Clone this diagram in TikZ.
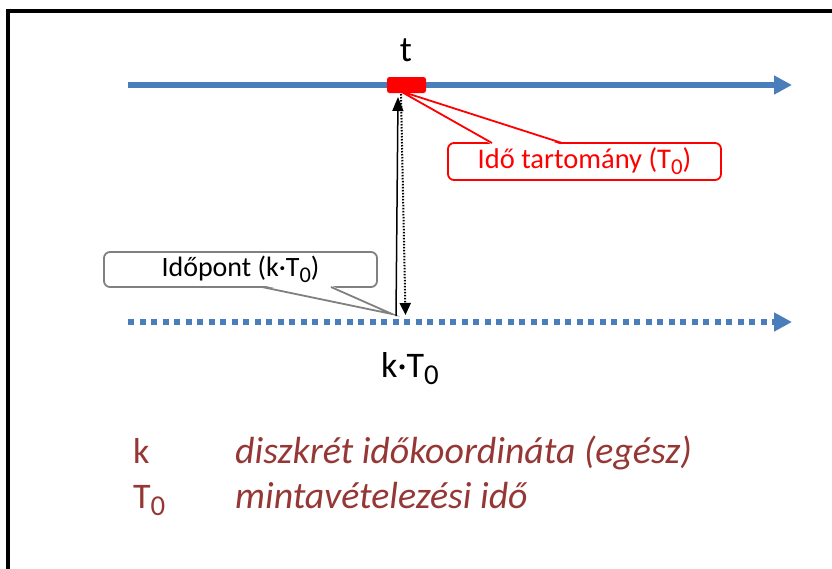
\documentclass[tikz,border=0pt]{standalone}
\usepackage{fontspec}
\usepackage{graphicx}
\setmainfont{Carlito}
\usetikzlibrary{arrows.meta}
\definecolor{axisblue}{HTML}{4A7EBB}
\definecolor{legred}{HTML}{953735}
\definecolor{callgray}{HTML}{808080}
\newcommand\lowz[1]{\raisebox{-0.2em}{\scalebox{0.8}{#1}}}
\tikzset{
  axisline/.style={draw=axisblue, line width=5.5pt, -{Triangle[length=18pt,width=18pt]}},
  redcall/.style={draw=red, line width=1.8pt, fill=white, rounded corners=6pt, text=red,
    minimum width=273pt, minimum height=37pt, inner sep=0pt, font=\fontsize{28.5}{34}\selectfont},
  graycall/.style={draw=callgray, line width=1.8pt, fill=white, rounded corners=6pt, text=black,
    minimum width=273pt, minimum height=35pt, inner sep=0pt, font=\fontsize{28}{33}\selectfont},
  biglab/.style={inner sep=0pt, anchor=base west, font=\fontsize{36}{42}\selectfont},
  legtxt/.style={inner sep=0pt, anchor=base west, text=legred, font=\fontsize{36}{42}\selectfont},
  legital/.style={legtxt, font=\fontsize{37.8}{44}\selectfont\itshape},
}
\begin{document}
\begin{tikzpicture}[x=1pt,y=-1pt]
\useasboundingbox (0,0) rectangle (832,568);
% frame
\draw[line width=4pt] (8,620) -- (8,11.3) -- (860,11.3);
% axes
\coordinate (topL) at (128,85);
\coordinate (topR) at (792,85);
\coordinate (botL) at (128,322);
\coordinate (botR) at (792,322);
\draw[axisline] (topL) -- (topR);
\draw[axisline, dash pattern=on 6pt off 5.5pt] (botL) -- (botR);
% red marker and label
\node[fill=red, rounded corners=2.5pt, minimum width=39pt, minimum height=16pt, inner sep=0pt] (mark) at (406.5,85) {};
\node[inner sep=0pt, anchor=base, font=\fontsize{36}{42}\selectfont] (tlab) at (406,61) {t};
% red callout
\node[redcall] (rbox) at (584.5,161.5) {Idő tartomány (T\lowz{0})};
\coordinate (rbl) at (492,143);
\coordinate (rbr) at (562,143);
\coordinate (rtip) at (400,91);
\fill[white] (rtip) -- (492.3,144.8) -- (561.7,144.8) -- cycle;
\draw[red, line width=1.8pt, line join=miter] (rbl) -- (rtip) -- (rbr);
% gray callout
\node[graycall] (gbox) at (240.5,269.5) {Időpont (k·T\lowz{0})};
\coordinate (gbl) at (262,287);
\coordinate (gbr) at (331,287);
\coordinate (gtip) at (392,314);
\fill[white] (gtip) -- (262.2,285.2) -- (330.6,285.2) -- cycle;
\draw[callgray, line width=1.8pt, line join=miter] (gbl) -- (gtip) -- (gbr);
% vertical arrows
\coordinate (s1) at (396,316);
\coordinate (s2) at (398,97);
\coordinate (d1) at (401,94);
\coordinate (d2) at (405.5,315);
\draw[line width=1.5pt, -{Triangle[length=14pt,width=11pt]}] (s1) -- (s2);
\draw[line width=2pt, dash pattern=on 1.5pt off 1.5pt, -{Triangle[length=12pt,width=11pt]}] (d1) -- (d2);
% k T0 label
\node[biglab] (ktlab) at (381,377) {k·T\lowz{0}};
% legend
\node[legtxt] (lk) at (133,463) {k};
\node[legital] (lkd) at (235,463) {diszkrét időkoordináta (egész)};
\node[legtxt] (lt) at (133,508) {T\lowz{0}};
\node[legital] (ltd) at (235,508) {mintavételezési idő};
\end{tikzpicture}
\end{document}
